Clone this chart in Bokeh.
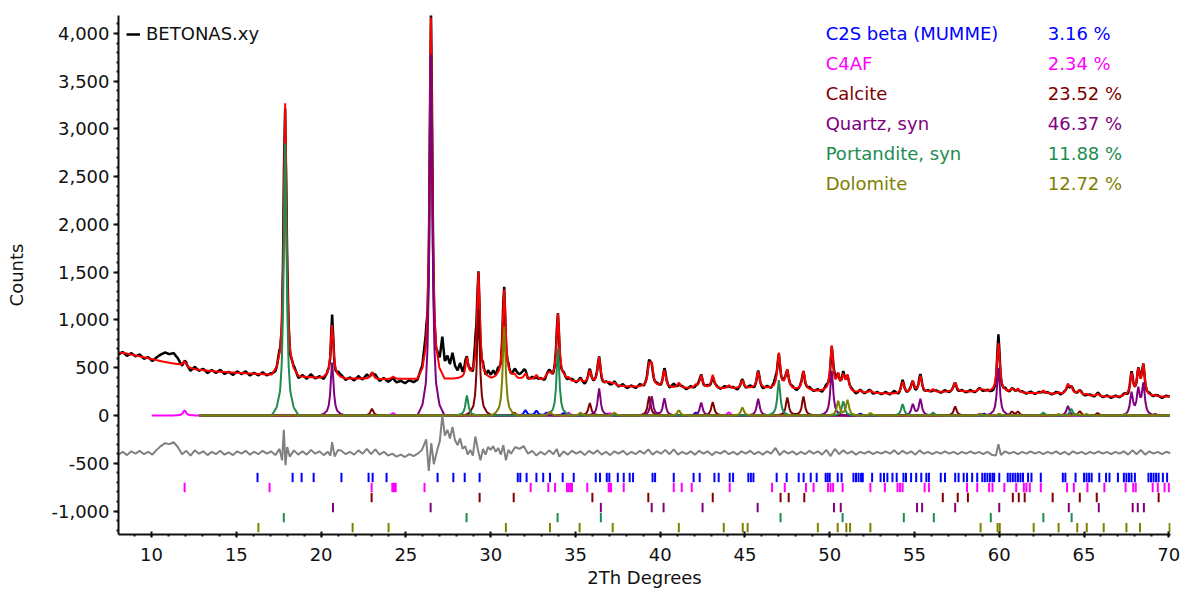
import numpy as np
from bokeh.plotting import figure
from bokeh.models import (ColumnDataSource, SingleIntervalTicker, NumeralTickFormatter,
                          Legend, LegendItem, Label, Range1d)
from bokeh.embed import file_html
from bokeh.resources import INLINE

# ---------------- data ----------------
X_MIN, X_MAX = 8.05, 70.1
Y_MIN, Y_MAX = -1246, 4188

# background of the calculated pattern (2Theta, counts)
BG_X = [8.05, 8.5, 9.8, 10.65, 11.6, 12.1, 12.6, 13.8, 15.7, 16.9, 18.9, 20.1, 22.1, 23.4,
        26.0, 28.0, 31.5, 32.5, 33.4, 35.0, 37.0, 38.7, 40.75, 43.7, 46.2, 49.6, 51.9,
        53.9, 55.8, 58.1, 61.1, 63.0, 66.0, 67.2, 70.1]
BG_Y = [660, 650, 600, 565, 534, 503, 482, 461, 440, 430, 408, 392, 387, 380,
        386, 388, 390, 375, 370, 355, 312, 302, 290, 282, 288, 258, 240,
        228, 245, 252, 240, 230, 200, 198, 198]

# phases: peak positions (2Theta) and peak heights (counts)
C2S_POS = [32.05, 32.7, 33.3, 34.3, 36.9, 42.1, 51.8, 59.1]
C2S_H = [55, 50, 30, 25, 20, 30, 20, 20]
C4AF_POS = [11.95, 24.25, 33.4, 34.6, 37.05, 44.05, 47.35, 58.8]
C4AF_H = [55, 25, 30, 30, 25, 35, 20, 15]
CALCITE_POS = [23.0, 29.28, 31.4, 35.85, 39.35, 43.1, 47.5, 48.45, 57.4, 60.75, 61.1,
               64.75, 65.8, 69.2]
CALCITE_H = [70, 1110, 30, 130, 200, 140, 190, 200, 95, 40, 40, 45, 25, 15]
QUARTZ_POS = [20.65, 26.48, 36.4, 39.5, 40.25, 42.42, 45.78, 50.12, 54.9, 55.35, 59.95,
              64.05, 67.8, 68.2, 68.5]
QUARTZ_H = [555, 3780, 283, 200, 180, 135, 175, 470, 115, 170, 500, 100, 230, 260, 320]
PORTL_POS = [17.88, 28.6, 33.97, 47.0, 50.8, 54.3, 56.1, 62.6, 64.25]
PORTL_H = [2850, 210, 700, 370, 150, 120, 30, 30, 70]
DOLO_POS = [30.8, 33.5, 35.3, 37.3, 41.1, 44.85, 50.5, 51.05, 52.4, 58.9, 60.0, 63.5,
            64.6, 65.15, 67.45]
DOLO_H = [930, 40, 30, 30, 55, 85, 150, 160, 25, 20, 20, 15, 15, 15, 15]

# observed minus calculated (2Theta, counts)
RES_X = [8.05, 8.3, 8.55, 8.8, 9.05, 9.3, 9.55, 9.8, 10.05, 10.3, 10.55, 10.8, 11.05, 11.3,
         11.55, 11.8, 12.05, 12.3, 12.55, 12.8, 13.05, 13.3, 13.55, 13.8, 14.05, 14.3,
         14.55, 14.8, 15.05, 15.3, 15.55, 15.8, 16.05, 16.3, 16.55, 16.8, 17.05, 17.3,
         17.55, 17.7, 17.8, 17.9, 18.0, 18.15, 18.4, 18.65, 18.9, 19.15, 19.4, 19.65,
         19.9, 20.15, 20.4, 20.55, 20.65, 20.8, 21.0, 21.2, 21.45, 21.7, 21.95, 22.2,
         22.45, 22.7, 22.95, 23.2, 23.45, 23.7, 23.95, 24.2, 24.45, 24.7, 24.95, 25.2,
         25.45, 25.7, 25.95, 26.2, 26.35, 26.5, 26.65, 26.85, 27.0, 27.15, 27.3, 27.45,
         27.6, 27.75, 27.9, 28.05, 28.2, 28.35, 28.5, 28.65, 28.8, 28.95, 29.1, 29.25,
         29.4, 29.55, 29.7, 29.85, 30.0, 30.15, 30.3, 30.45, 30.6, 30.75, 30.9, 31.05,
         31.2, 31.45, 31.7, 31.95, 32.2, 32.45, 32.7, 32.95, 33.2, 33.45, 33.7, 33.9,
         34.05, 34.3, 34.55, 34.8, 35.05, 35.3, 35.55, 35.8, 36.05, 36.3, 36.55, 36.8,
         37.05, 37.3, 37.55, 37.8, 38.05, 38.3, 38.55, 38.8, 39.05, 39.3, 39.55, 39.8,
         40.05, 40.3, 40.55, 40.8, 41.05, 41.3, 41.55, 41.8, 42.05, 42.3, 42.55, 42.8,
         43.05, 43.3, 43.55, 43.8, 44.05, 44.3, 44.55, 44.8, 45.05, 45.3, 45.55, 45.8,
         46.05, 46.3, 46.55, 46.8, 47.05, 47.3, 47.55, 47.8, 48.05, 48.3, 48.55, 48.8,
         49.05, 49.3, 49.55, 49.8, 50.05, 50.3, 50.55, 50.8, 51.05, 51.3, 51.55, 51.8,
         52.05, 52.3, 52.55, 52.8, 53.05, 53.3, 53.55, 53.8, 54.05, 54.3, 54.55, 54.8,
         55.05, 55.3, 55.55, 55.8, 56.05, 56.3, 56.55, 56.8, 57.05, 57.3, 57.55, 57.8,
         58.05, 58.3, 58.55, 58.8, 59.05, 59.3, 59.55, 59.8, 59.95, 60.1, 60.35, 60.6,
         60.85, 61.1, 61.35, 61.6, 61.85, 62.1, 62.35, 62.6, 62.85, 63.1, 63.35, 63.6,
         63.85, 64.1, 64.35, 64.6, 64.85, 65.1, 65.35, 65.6, 65.85, 66.1, 66.35, 66.6,
         66.85, 67.1, 67.35, 67.6, 67.85, 68.1, 68.35, 68.6, 68.85, 69.1, 69.35, 69.6,
         69.85, 70.1]
RES_Y = [-20, 10, -25, 15, -10, 20, -15, 10, -20, 30, 70, 100, 90, 110,
         60, -15, 20, -30, 25, -10, 15, -25, 10, -15, 20, -20,
         5, -25, 15, -10, 20, -20, 10, -15, 20, -10, 15, -25,
         40, -80, 240, -130, 60, -40, 25, -20, 15, -20, 30, -10,
         15, -25, 10, -30, 110, -40, 30, 20, -15, 10, -20, 25,
         -10, 40, -15, 35, -20, 10, -30, -10, -40, -20, -45, -15,
         -35, -10, 30, 140, -190, 100, -120, 30, 120, 390, 180, 240,
         150, 270, 130, 80, 150, 40, 70, -20, 30, -30, 170, 30,
         -80, 40, -20, 60, 30, 70, 10, 50, -20, 80, -80, 30,
         -10, 60, 40, 70, -10, 20, -30, 10, -20, 25, -15, 40,
         -40, 15, -20, 20, -10, 15, -25, 20, -10, 25, -20, 10,
         -25, 15, -10, 20, -20, 10, -15, 20, -10, 35, -20, 15,
         -10, 30, -15, 35, -20, 10, -15, 15, -20, 20, -10, 15,
         -25, 10, -10, 20, -15, 10, -20, 15, -10, 20, -15, 10,
         -20, 15, -10, 50, -25, 20, -10, 15, -20, 10, -15, 20,
         -10, 15, -20, 30, -35, 40, -15, 25, -10, 15, -20, 10,
         -10, 15, -15, 10, -10, 15, -10, 25, -15, 20, -10, 15,
         -20, 25, -10, 10, -15, 10, -10, 15, -10, 10, -15, 10,
         -10, 15, -10, 10, -15, 10, -20, -30, 90, -25, 15, -10,
         10, -15, 10, -10, 15, -10, 10, -15, 10, -10, 15, -15,
         10, -20, 15, -10, 10, -15, 10, -10, 15, -10, 10, -15,
         10, -10, 15, -20, 25, -15, 30, -20, 15, -10, 10, -15,
         10, -5]
DIFF_OFFSET = -390

# reflection marker positions (2Theta)
C2S_TICKS = [16.25, 18.32, 18.85, 19.56, 21.2, 22.8, 23.04, 23.86, 26.87, 27.8, 28.47, 29.35,
             31.6, 31.75, 32.12, 32.7, 33.1, 33.5, 34.25, 34.9, 36.2, 36.45, 36.85, 37.0,
             37.5, 37.85, 38.2, 38.4, 39.55, 39.7, 40.8, 41.97, 42.33, 43.2, 43.45, 44.1,
             44.3, 45.2, 45.35, 45.5, 46.87, 47.46, 48.17, 48.46, 48.88, 49.23, 49.76, 49.88,
             50.0, 50.47, 50.7, 51.4, 51.55, 51.7, 51.85, 51.95, 52.5, 53.0, 53.2, 53.4,
             53.7, 53.95, 54.35, 54.5, 54.8, 55.1, 55.4, 55.7, 55.85, 56.55, 56.8, 57.4,
             57.6, 57.9, 58.1, 58.4, 58.7, 59.0, 59.15, 59.3, 59.45, 59.6, 59.7, 60.0,
             60.5, 60.65, 60.8, 60.95, 61.1, 61.25, 61.4, 61.7, 61.9, 62.45, 63.75, 63.9,
             64.5, 65.0, 65.15, 65.3, 65.45, 65.9, 66.3, 66.5, 67.0, 67.35, 67.5, 67.65,
             67.8, 68.0, 68.8, 68.95, 69.1, 69.25, 69.4, 69.65, 69.9]
C4AF_TICKS = [11.95, 16.96, 22.98, 24.2, 24.3, 24.4, 26.1, 32.36, 33.4, 33.8, 34.5, 34.6,
              34.7, 34.8, 35.7, 36.96, 37.05, 37.1, 37.85, 40.8, 41.27, 41.86, 44.1, 46.6,
              47.35, 48.6, 49.05, 49.9, 50.05, 50.2, 50.76, 52.4, 53.25, 54.0, 54.15, 54.3,
              55.6, 55.85, 58.1, 58.7, 59.4, 59.6, 60.3, 61.0, 61.45, 61.6, 61.8, 62.45,
              64.0, 64.4, 65.2, 66.2, 67.45, 67.9, 68.05, 69.05, 69.35, 69.75, 70.0]
CALCITE_TICKS = [22.98, 29.35, 31.36, 36.0, 39.3, 43.1, 47.1, 47.58, 48.5, 56.67, 57.55,
                 58.15, 60.8, 61.15, 61.5, 63.15, 64.75, 65.75, 69.4]
QUARTZ_TICKS = [20.7, 26.46, 36.5, 39.5, 40.2, 42.5, 45.75, 50.25, 50.65, 55.15, 55.45,
                57.4, 60.0, 64.1, 65.87, 67.87, 68.17, 68.53]
PORTL_TICKS = [17.8, 28.58, 33.95, 36.5, 47.1, 50.76, 54.37, 56.14, 59.5, 62.6, 64.27]
DOLO_TICKS = [16.3, 21.86, 23.98, 30.9, 33.5, 35.25, 37.2, 41.1, 43.75, 44.87, 45.16, 49.3,
              50.47, 50.98, 51.2, 52.4, 58.9, 59.9, 60.03, 62.03, 63.5, 64.6, 65.16, 66.16,
              67.5, 68.3, 70.05]

PHASE_NAMES = ["C2S beta (MUMME)", "C4AF", "Calcite", "Quartz, syn", "Portandite, syn", "Dolomite"]
PHASE_PCT = ["3.16 %", "2.34 %", "23.52 %", "46.37 %", "11.88 %", "12.72 %"]
PHASE_POS = [C2S_POS, C4AF_POS, CALCITE_POS, QUARTZ_POS, PORTL_POS, DOLO_POS]
PHASE_H = [C2S_H, C4AF_H, CALCITE_H, QUARTZ_H, PORTL_H, DOLO_H]
PHASE_TICKS = [C2S_TICKS, C4AF_TICKS, CALCITE_TICKS, QUARTZ_TICKS, PORTL_TICKS, DOLO_TICKS]
PHASE_START = [12.8, 10.0, 12.8, 12.8, 12.8, 12.8]

# ---------------- styles ----------------
PHASE_COLORS = ["#0000FF", "#FF00FF", "#800000", "#800080", "#1E8C50", "#808000"]
FONT = "DejaVu Sans"
FONT_SIZE = "18px"
PROFILE_DX = [-0.8, -0.5, -0.3, -0.2, -0.12, -0.06, 0.0, 0.06, 0.12, 0.2, 0.3, 0.5, 0.8]
PROFILE_FR = [0.0, 0.03, 0.09, 0.19, 0.4, 0.74, 1.0, 0.74, 0.4, 0.19, 0.09, 0.03, 0.0]
TICK_TOP = -600
TICK_STEP = 105
TICK_LEN = 98

# ---------------- build curves ----------------
all_pos = np.concatenate([np.asarray(p, float) for p in PHASE_POS])
grid = np.union1d(np.round(np.arange(X_MIN, 70.06, 0.02), 4), all_pos)

phase_curves = []
for pos, hts in zip(PHASE_POS, PHASE_H):
    y = np.zeros_like(grid)
    for p_, h_ in zip(pos, hts):
        y += h_ * np.interp(grid - p_, PROFILE_DX, PROFILE_FR)
    phase_curves.append(y)

calc = np.interp(grid, BG_X, BG_Y) + np.sum(phase_curves, axis=0)
obs = calc + np.interp(grid, RES_X, RES_Y)

# ---------------- figure ----------------
p = figure(width=1188, height=592, output_backend="svg", toolbar_location=None,
           x_range=Range1d(X_MIN, X_MAX), y_range=Range1d(Y_MIN, Y_MAX),
           min_border_left=118, min_border_right=18, min_border_top=15, min_border_bottom=58)
p.outline_line_color = None
p.xgrid.visible = False
p.ygrid.visible = False
p.background_fill_color = "white"
p.border_fill_color = "white"

obs_r = p.line(grid, obs, line_color="black", line_width=2.5)
p.line(grid, calc, line_color="#FF0000", line_width=2)

for i, y in enumerate(phase_curves):
    m = grid >= PHASE_START[i]
    p.line(grid[m], y[m], line_color=PHASE_COLORS[i], line_width=2)

p.line(RES_X, np.asarray(RES_Y) + DIFF_OFFSET, line_color="#808080", line_width=2)

for i, ticks in enumerate(PHASE_TICKS):
    top = TICK_TOP - TICK_STEP * i
    src = ColumnDataSource(dict(x=ticks, y0=[top] * len(ticks), y1=[top - TICK_LEN] * len(ticks)))
    p.segment(x0="x", y0="y0", x1="x", y1="y1", source=src, line_color=PHASE_COLORS[i],
              line_width=2)

# axes
p.xaxis.ticker = SingleIntervalTicker(interval=5, num_minor_ticks=5)
p.yaxis.ticker = SingleIntervalTicker(interval=500, num_minor_ticks=5)
p.yaxis.formatter = NumeralTickFormatter(format="0,0")
for ax in (p.xaxis[0], p.yaxis[0]):
    ax.axis_line_color = "#111111"
    ax.axis_line_width = 2
    ax.major_tick_line_color = "#111111"
    ax.minor_tick_line_color = "#111111"
    ax.major_tick_line_width = 2
    ax.minor_tick_line_width = 2
    ax.major_label_text_font = FONT
    ax.major_label_text_font_size = FONT_SIZE
    ax.major_label_text_color = "#111111"
    ax.axis_label_text_font = FONT
    ax.axis_label_text_font_size = FONT_SIZE
    ax.axis_label_text_font_style = "normal"
    ax.axis_label_text_color = "#111111"
p.xaxis.axis_label = "2Th Degrees"
p.yaxis.axis_label = "Counts"
p.xaxis.major_tick_in = 3
p.xaxis.major_tick_out = 3
p.xaxis.minor_tick_in = 0
p.xaxis.minor_tick_out = 2
p.xaxis.major_label_standoff = 10
p.xaxis.axis_label_standoff = 3
p.yaxis.major_tick_in = 0
p.yaxis.major_tick_out = 5
p.yaxis.minor_tick_in = 0
p.yaxis.minor_tick_out = 2
p.yaxis.major_label_standoff = 4
p.yaxis.axis_label_standoff = 21

# legend of the observed pattern
leg = Legend(items=[LegendItem(label="BETONAS.xy", renderers=[obs_r])],
             location="top_left", margin=8, padding=2, spacing=0, glyph_height=16,
             glyph_width=14, label_standoff=6, label_height=16, label_text_font=FONT,
             label_text_font_size=FONT_SIZE, label_text_color="#111111",
             border_line_color=None, background_fill_alpha=0)
p.add_layout(leg)

# phase list
for i, (name, pct) in enumerate(zip(PHASE_NAMES, PHASE_PCT)):
    yv = 4000 - 314 * i
    p.add_layout(Label(x=49.76, y=yv, text=name, text_font=FONT, text_font_size=FONT_SIZE,
                       text_baseline="middle", text_color=PHASE_COLORS[i]))
    p.add_layout(Label(x=62.86, y=yv, text=pct, text_font=FONT, text_font_size=FONT_SIZE,
                       text_baseline="middle", text_color=PHASE_COLORS[i]))

open("out.html", "w").write(file_html(p, INLINE))
